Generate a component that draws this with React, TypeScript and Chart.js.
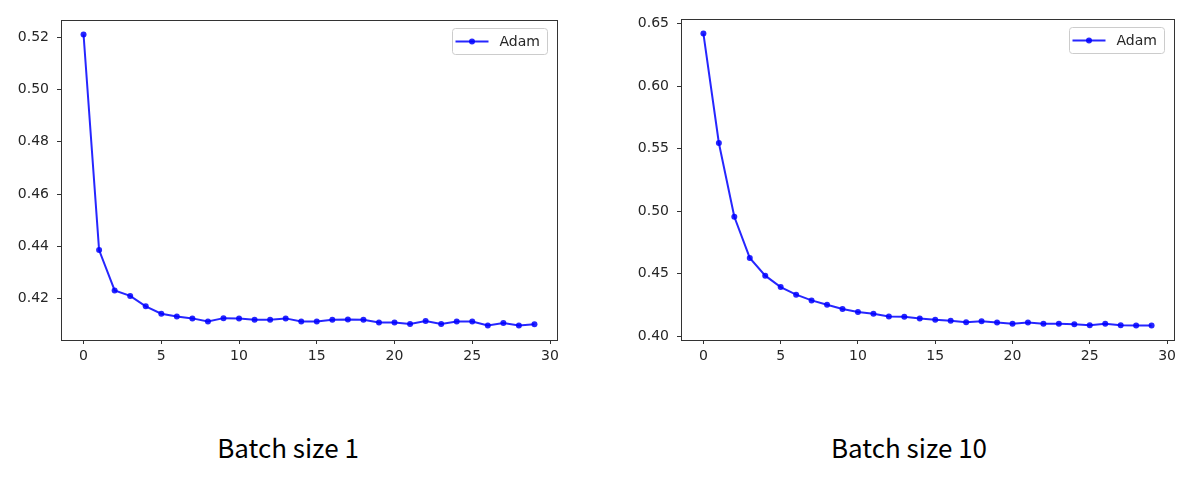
import React, { useEffect, useRef } from "react";
import { Chart, registerables } from "chart.js";

Chart.register(...registerables);

const epochs = [0, 1, 2, 3, 4, 5, 6, 7, 8, 9, 10, 11, 12, 13, 14, 15, 16, 17, 18, 19, 20, 21, 22, 23, 24, 25, 26, 27, 28, 29];

const batch1Loss = [
  0.521, 0.4386, 0.4232, 0.4211, 0.4171, 0.4143, 0.4132, 0.4125, 0.4113, 0.4126,
  0.4125, 0.412, 0.412, 0.4125, 0.4113, 0.4113, 0.412, 0.4121, 0.412, 0.4109,
  0.4109, 0.4104, 0.4115, 0.4104, 0.4113, 0.4113, 0.4098, 0.4107, 0.4098, 0.4103,
];

const batch10Loss = [
  0.642, 0.5545, 0.4955, 0.4626, 0.4484, 0.4393, 0.4332, 0.4286, 0.4251, 0.4217,
  0.4193, 0.4179, 0.4158, 0.4155, 0.4142, 0.4131, 0.4123, 0.4112, 0.412, 0.411,
  0.4099, 0.411, 0.4099, 0.4099, 0.4096, 0.4088, 0.4099, 0.4088, 0.4086, 0.4086,
];

const xTicks = [0, 5, 10, 15, 20, 25, 30];
const yTicksBatch1 = [0.42, 0.44, 0.46, 0.48, 0.5, 0.52];
const yTicksBatch10 = [0.4, 0.45, 0.5, 0.55, 0.6, 0.65];

const seriesLabel = "Adam";
const captions = ["Batch size 1", "Batch size 10"];

const LINE_COLOR = "rgba(0,0,255,0.85)";
const TEXT_COLOR = "#262626";
const FRAME_COLOR = "#333333";
const TICK_FONT = { family: "'DejaVu Sans', sans-serif", size: 14 };

function margins(vals: number[]) {
  const mn = Math.min(...vals);
  const mx = Math.max(...vals);
  const pad = (mx - mn) * 0.05;
  return { min: mn - pad, max: mx + pad };
}

const framePlugin = {
  id: "frame",
  afterDatasetsDraw(chart: any) {
    const { ctx, chartArea } = chart;
    const l = Math.round(chartArea.left) + 0.5;
    const t = Math.round(chartArea.top) + 0.5;
    const r = Math.round(chartArea.right) + 0.5;
    const b = Math.round(chartArea.bottom) + 0.5;
    ctx.save();
    ctx.strokeStyle = FRAME_COLOR;
    ctx.lineWidth = 1;
    ctx.strokeRect(l, t, r - l, b - t);
    ctx.restore();
  },
};

const boxLegendPlugin = {
  id: "boxLegend",
  afterDraw(chart: any) {
    const { ctx, chartArea } = chart;
    const ds = chart.data.datasets[0];
    const w = 95;
    const h = 26;
    const x = Math.round(chartArea.right) - 10 - w + 0.5;
    const y = Math.round(chartArea.top) + 8 + 0.5;
    ctx.save();
    ctx.fillStyle = "rgba(255,255,255,0.8)";
    ctx.strokeStyle = "#cccccc";
    ctx.lineWidth = 1;
    ctx.beginPath();
    const rr = 3;
    ctx.moveTo(x + rr, y);
    ctx.lineTo(x + w - rr, y);
    ctx.quadraticCurveTo(x + w, y, x + w, y + rr);
    ctx.lineTo(x + w, y + h - rr);
    ctx.quadraticCurveTo(x + w, y + h, x + w - rr, y + h);
    ctx.lineTo(x + rr, y + h);
    ctx.quadraticCurveTo(x, y + h, x, y + h - rr);
    ctx.lineTo(x, y + rr);
    ctx.quadraticCurveTo(x, y, x + rr, y);
    ctx.closePath();
    ctx.fill();
    ctx.stroke();
    const cy = y + h / 2;
    ctx.strokeStyle = ds.borderColor;
    ctx.lineWidth = 2;
    ctx.beginPath();
    ctx.moveTo(x + 3, cy);
    ctx.lineTo(x + 36, cy);
    ctx.stroke();
    ctx.fillStyle = ds.borderColor;
    ctx.beginPath();
    ctx.arc(x + 19.5, cy, 3, 0, Math.PI * 2);
    ctx.fill();
    ctx.fillStyle = TEXT_COLOR;
    ctx.font = "14px 'DejaVu Sans', sans-serif";
    ctx.textBaseline = "middle";
    ctx.textAlign = "left";
    ctx.fillText(ds.label, x + 47, cy + 1);
    ctx.restore();
  },
};

type PanelProps = {
  left: number;
  width: number;
  padLeft: number;
  padRight: number;
  padTop: number;
  values: number[];
  yTicks: number[];
};

function LossPanel({ left, width, padLeft, padRight, padTop, values, yTicks }: PanelProps) {
  const ref = useRef<HTMLCanvasElement | null>(null);
  useEffect(() => {
    if (!ref.current) return;
    const xr = margins(epochs);
    const yr = margins(values);
    const chart = new Chart(ref.current, {
      type: "line",
      data: {
        datasets: [
          {
            label: seriesLabel,
            data: epochs.map((e, i) => ({ x: e, y: values[i] })),
            borderColor: LINE_COLOR,
            backgroundColor: LINE_COLOR,
            borderWidth: 2,
            pointRadius: 3,
            pointBackgroundColor: LINE_COLOR,
            pointBorderWidth: 0,
            tension: 0,
          },
        ],
      },
      options: {
        responsive: false,
        animation: false,
        events: [],
        layout: { padding: { top: padTop, right: padRight, bottom: 30, left: padLeft } },
        plugins: { legend: { display: false }, tooltip: { enabled: false } },
        scales: {
          x: {
            type: "linear",
            min: xr.min,
            max: xr.max,
            afterBuildTicks: (ax: any) => {
              ax.ticks = xTicks.map((v) => ({ value: v }));
            },
            afterFit: (ax: any) => {
              ax.height = 30;
            },
            grid: { drawOnChartArea: false, drawTicks: true, tickLength: 4, tickColor: FRAME_COLOR, tickWidth: 1 },
            border: { display: false },
            ticks: {
              autoSkip: false,
              maxRotation: 0,
              padding: 4,
              color: TEXT_COLOR,
              font: TICK_FONT,
              callback: (v: any) => String(v),
            },
          },
          y: {
            type: "linear",
            min: yr.min,
            max: yr.max,
            afterBuildTicks: (ax: any) => {
              ax.ticks = yTicks.map((v) => ({ value: v }));
            },
            afterFit: (ax: any) => {
              ax.width = 61;
            },
            grid: { drawOnChartArea: false, drawTicks: true, tickLength: 4, tickColor: FRAME_COLOR, tickWidth: 1 },
            border: { display: false },
            ticks: {
              autoSkip: false,
              padding: 8,
              color: TEXT_COLOR,
              font: TICK_FONT,
              callback: (v: any) => Number(v).toFixed(2),
            },
          },
        },
      } as any,
      plugins: [framePlugin, boxLegendPlugin],
    });
    return () => chart.destroy();
  }, [values, yTicks, padLeft, padRight, padTop]);
  return (
    <canvas
      ref={ref}
      width={width}
      height={400}
      style={{ position: "absolute", left, top: 0, width, height: 400 }}
    />
  );
}

const captionStyle: React.CSSProperties = {
  position: "absolute",
  top: 434,
  width: 400,
  textAlign: "center",
  fontFamily: "'Noto Sans CJK KR', 'Noto Sans', sans-serif",
  fontSize: 26,
  lineHeight: "26px",
  color: "#000",
  whiteSpace: "nowrap",
};

export default function App() {
  return (
    <div
      style={{
        position: "absolute",
        left: 0,
        top: 0,
        width: 1202,
        height: 504,
        background: "#fff",
        overflow: "hidden",
      }}
    >
      <LossPanel left={0} width={600} padLeft={0} padRight={43} padTop={20} values={batch1Loss} yTicks={yTicksBatch1} />
      <LossPanel left={600} width={602} padLeft={20} padRight={28} padTop={19} values={batch10Loss} yTicks={yTicksBatch10} />
      <div style={{ ...captionStyle, left: 288 - 200 }}>{captions[0]}</div>
      <div style={{ ...captionStyle, left: 909 - 200 }}>{captions[1]}</div>
    </div>
  );
}
